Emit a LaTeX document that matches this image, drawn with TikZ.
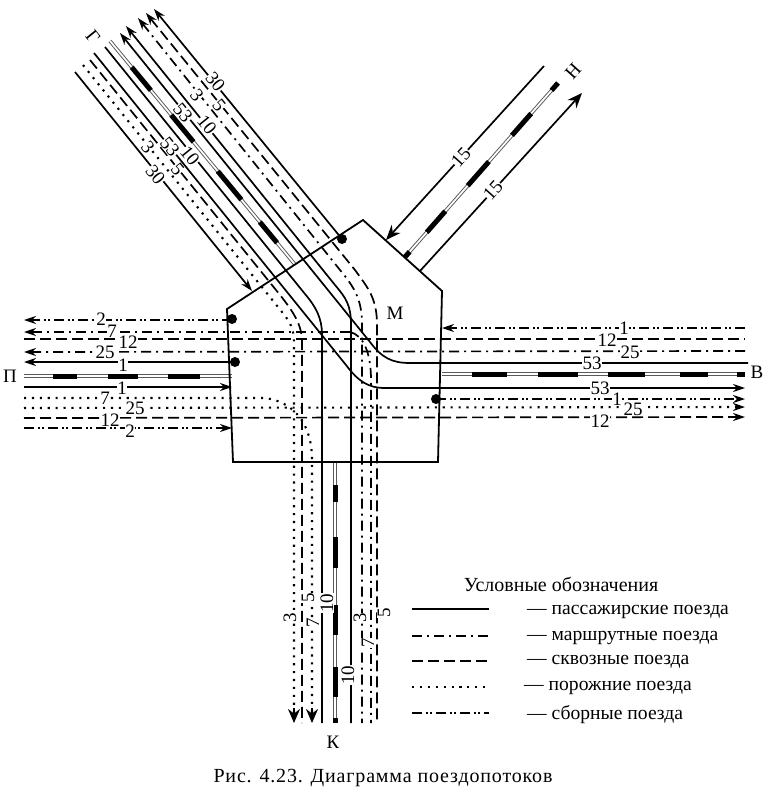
\documentclass[tikz,border=0pt]{standalone}
\usepackage{fontspec}
\setmainfont{Liberation Serif}
\usetikzlibrary{arrows.meta}
\tikzset{
  base/.style={line width=1.7pt,line cap=butt},
  passline/.style={base},
  routeline/.style={base,dash pattern=on 10pt off 5pt on 2pt off 5pt},
  throughline/.style={base,dash pattern=on 11pt off 5pt},
  emptyline/.style={line width=2.1pt,dash pattern=on 2.1pt off 5.8pt},
  pickline/.style={base,dash pattern=on 10pt off 4pt on 2pt off 2pt on 2pt off 4pt},
  stripeouter/.style={line width=3.6pt,black!65},
  stripeinner/.style={line width=1.7pt,white},
  tipS/.style={-{Stealth[length=12pt,width=8pt]}},
  tipSr/.style={{Stealth[length=12pt,width=8pt]}-},
  tipL/.style={-{Stealth[length=14pt,width=12pt]}},
  tipN/.style={-{Stealth[length=15pt,width=12pt]}},
  lab/.style={fill=white,inner sep=0.3pt,font=\fontsize{19}{19}\selectfont},
  nolab/.style={inner sep=0pt,font=\fontsize{19}{19}\selectfont},
  legtext/.style={anchor=west,inner sep=0pt,font=\fontsize{19.6}{20}\selectfont},
}
\newcommand{\stripes}[2]{%
  \draw[stripeouter] #1;
  \draw[stripeinner] #1;
  \draw[line width=5pt,black,dash pattern=#2] #1;
}
\begin{document}
\begin{tikzpicture}[x=1pt,y=-1pt]
\useasboundingbox (0,0) rectangle (767,798);
% --- diagonal NW bundle
\draw[passline,tipS] (75,72) -- (252,291);
\draw[emptyline] (83,65) -- (282,312) .. controls (291,323) and (294,330) .. (294,342) -- (294,712);
\draw[passline,tipL] (294,708) -- (294,723);
\draw[throughline] (90,60) -- (276,290) .. controls (294,312) and (302,325) .. (302,342) -- (302,723);
\draw[passline,tipS] (94,53) -- (346,365) .. controls (358,381) and (368,388) .. (385,388) -- (745,388);
\draw[passline] (105,47) -- (305,294) .. controls (316,307) and (322,318) .. (322,335) -- (322,723);
\stripes{(110,41) -- (295,264.5)}{on 0pt off 34pt on 30pt off 32pt on 35pt off 38pt on 37pt off 29pt on 27pt off 40pt}
\draw[passline,tipSr] (120,33) -- (370,342) .. controls (382,358) and (392,363) .. (410,363) -- (748,363);
\draw[passline,tipSr] (126,26) -- (335,285) .. controls (346,298) and (351,305) .. (351,325) -- (351,723);
\draw[routeline,tipSr] (138,18) -- (340,270) .. controls (355,288) and (362,300) .. (362,325) -- (362,723);
\draw[throughline,tipSr] (146,13) -- (355,270) .. controls (368,288) and (377,298) .. (377,325) -- (377,723);
\draw[passline,tipSr] (154,9) -- (342,239);
% --- NE bundle
\draw[passline,tipN] (544,66) -- (386,240);
\stripes{(405,257) -- (558,83)}{on 7pt off 26pt on 28pt off 34pt on 32pt off 35pt on 29pt off 31pt on 10pt off 40pt}
\draw[passline,tipN] (420,271) -- (582,93);
% --- West and East
\draw[pickline,tipS] (232,320) -- (24,320);
\draw[routeline,tipS] (350,332) -- (24,332);
\draw[routeline] (350,332) .. controls (363,335) and (371,352) .. (371,380) -- (371,723);
\draw[throughline] (24,339) -- (745,339);
\draw[routeline,tipS] (745,351) -- (24,352);
\draw[passline,tipS] (235,362) -- (24,362);
\stripes{(24,376) -- (232,376)}{on 0pt off 29pt on 24pt off 31pt on 30pt off 30pt on 32pt off 40pt}
\draw[passline,tipS] (24,387) -- (232,387);
\draw[emptyline] (24,398) -- (265,398) .. controls (295,402) and (312,425) .. (312,460) -- (312,712);
\draw[passline,tipL] (312,708) -- (312,723);
\draw[emptyline,tipS] (24,408) -- (745,407);
\draw[throughline,tipS] (24,418) -- (745,417);
\draw[pickline,tipS] (24,428) -- (232,428);
\draw[pickline,tipS] (745,328) -- (442,328);
\stripes{(442,374) -- (745,374)}{on 0pt off 30pt on 35pt off 31pt on 40pt off 30pt on 37pt off 35pt on 28pt off 29pt on 10pt off 40pt}
\draw[pickline,tipS] (436,399) -- (745,399);
% --- South striped
\stripes{(335,462) -- (335,723)}{on 0pt off 23pt on 17pt off 35pt on 31pt off 37pt on 30pt off 32pt on 30pt off 21pt on 10pt off 40pt}
% --- station outline
\draw[line width=1.8pt,line join=miter] (363,220) -- (442,291) -- (438,462) -- (233,462) -- (227,309) -- cycle;
\fill (342,239) circle (5pt);
\fill (232,319) circle (5pt);
\fill (235,362) circle (5pt);
\fill (436,399) circle (5pt);
% --- place names
\node[nolab,rotate=-51] (nG) at (93,37) {Г};
\node[nolab,rotate=48] (nH) at (573,71) {Н};
\node[nolab] (nM) at (395,313) {М};
\node[nolab] (nP) at (10,376) {П};
\node[nolab] (nV) at (757,372) {В};
\node[nolab] (nK) at (333,742) {К};
% --- NW labels
\node[lab,rotate=-51] (a1) at (155.5,175) {30};
\node[lab,rotate=-51] (a2) at (148,147) {3};
\node[lab,rotate=-51] (a3) at (177.5,169) {5};
\node[lab,rotate=-51] (a4) at (170,147) {53};
\node[lab,rotate=-51] (a5) at (190,156) {10};
\node[lab,rotate=-51] (a6) at (183,113) {53};
\node[lab,rotate=-51] (a7) at (207,125) {10};
\node[lab,rotate=-51] (a8) at (197,95) {3};
\node[lab,rotate=-51] (a9) at (219,105) {5};
\node[lab,rotate=-51] (a10) at (215.5,82) {30};
% --- NE labels
\node[lab,rotate=48] (b1) at (461,157) {15};
\node[lab,rotate=48] (b2) at (493,190) {15};
% --- West labels
\node[lab] (c1) at (101,319) {2};
\node[lab] (c2) at (112,331) {7};
\node[lab] (c3) at (128,342) {12};
\node[lab] (c4) at (105,352) {25};
\node[lab] (c5) at (123,365) {1};
\node[lab] (c6) at (122,388) {1};
\node[lab] (c7) at (105,398) {7};
\node[lab] (c8) at (135,408) {25};
\node[lab] (c9) at (110,420) {12};
\node[lab] (c10) at (130,431) {2};
% --- East labels
\node[lab] (d1) at (624,328) {1};
\node[lab] (d2) at (607,340) {12};
\node[lab] (d3) at (630,352) {25};
\node[lab] (d4) at (592,363) {53};
\node[lab] (d5) at (600,388) {53};
\node[lab] (d6) at (617,399) {1};
\node[lab] (d7) at (633,409) {25};
\node[lab] (d8) at (600,421) {12};
% --- South labels
\node[lab,rotate=90] (e1) at (290,618) {3};
\node[lab,rotate=90] (e2) at (308,598) {5};
\node[lab,rotate=90] (e3) at (313,623) {7};
\node[lab,rotate=90] (e4) at (327,603) {10};
\node[lab,rotate=90] (e5) at (348,675) {10};
\node[lab,rotate=90] (e6) at (360,618) {3};
\node[lab,rotate=90] (e7) at (368,643) {7};
\node[lab,rotate=90] (e8) at (384,613) {5};
% --- legend
\node[anchor=center,inner sep=0pt,font=\fontsize{20}{20}\selectfont] (lt) at (561,584) {Условные обозначения};
\draw[passline,line width=2pt] (412,609) -- (489,609);
\draw[routeline,line width=2pt] (412,636) -- (489,636);
\draw[throughline,line width=2pt] (412,661) -- (489,661);
\draw[emptyline,line width=1.6pt] (412,687) -- (489,687);
\draw[pickline,line width=2pt] (412,713) -- (489,713);
\node[legtext] (l1) at (527,612) {— пассажирские поезда};
\node[legtext] (l2) at (527,638) {— маршрутные поезда};
\node[legtext] (l3) at (527,662) {— сквозные поезда};
\node[legtext] (l4) at (524,688) {— порожние поезда};
\node[legtext] (l5) at (527,715) {— сборные поезда};
\node[inner sep=0pt,font=\fontsize{20}{22}\selectfont\addfontfeature{LetterSpace=4.2}] (cap) at (383,778) {Рис. 4.23. Диаграмма поездопотоков};
\end{tikzpicture}
\end{document}
